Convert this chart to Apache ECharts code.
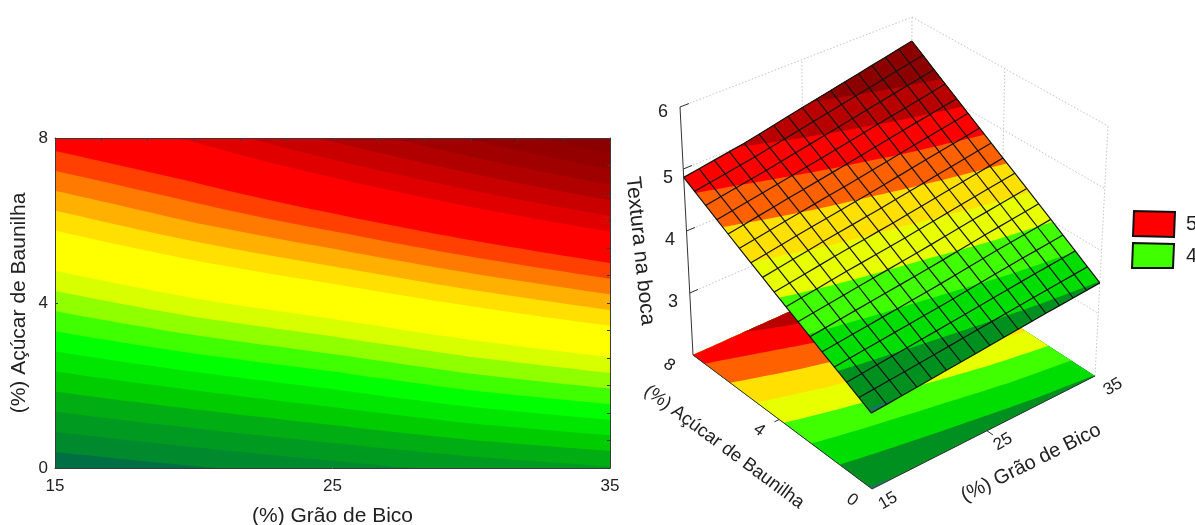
<!DOCTYPE html>
<html>
<head>
<meta charset="utf-8">
<style>html,body{margin:0;padding:0;background:#fff;overflow:hidden}#c{width:1195px;height:525px}</style>
<script src="https://cdn.jsdelivr.net/npm/echarts@6/dist/echarts.min.js"></script>
</head>
<body>
<div id="c"></div>
<script>
// ---- Values ----
const grainValues = [15, 20, 25, 30, 35];      // (%) Grão de Bico
const sugarValues = [0, 2, 4, 6, 8];           // (%) Açúcar de Baunilha
const textureAtGrain15 = [3.22, 3.63, 4.04, 4.45, 4.865];
const textureAtGrain20 = [3.29, 3.725, 4.175, 4.61, 5.02];
const textureAtGrain25 = [3.36, 3.82, 4.29, 4.76, 5.22];
const textureAtGrain30 = [3.43, 3.93, 4.42, 4.92, 5.41];
const textureAtGrain35 = [3.49, 4.02, 4.545, 5.07, 5.60];
const textureRows = [textureAtGrain15, textureAtGrain20, textureAtGrain25, textureAtGrain30, textureAtGrain35];

// contour levels and colours of the flat map (first colour lies below the first level)
const mapLevels = [3.3,3.4,3.5,3.6,3.7,3.8,3.9,4.0,4.1,4.2,4.4,4.5,4.6,4.7,4.8,5.0,5.1,5.2,5.3,5.4,5.5];
const mapColors = ['#006f44','#008a2e','#009a20','#00ae14','#00cc00','#00e600','#00ff00','#40ff00','#90ff00','#d8ff00','#ffff00','#ffe000','#ffb000','#ff7a00','#ff4000','#ff0000','#e00000','#c80000','#b00000','#a00000','#940000','#8b0000'];
// contour levels and colours of the 3D surface and its floor
const surfLevels = [3.25,3.5,3.75,4.0,4.25,4.5,4.75,5.0,5.25];
const surfColors = ['#17785a','#009020','#00dd00','#40ff00','#e8ff00','#ffe000','#ff6000','#ff0000','#b80000','#8c0000'];

const grainTicks = [15, 25, 35];
const sugarTicks = [0, 4, 8];
const textureTicks = [3, 4, 5, 6];
const legendLabels = ['5', '4'];
const legendColors = ['#ff0000', '#40ff00'];
const grainName = '(%) Grão de Bico';
const sugarName = '(%) Açúcar de Baunilha';
const textureName = 'Textura na boca';

// ---- Layout / camera (not data) ----
const MESH = 16, COLS = 48;
const FONT = '"Liberation Sans", Arial, sans-serif';
const floorQuad = [[872,489],[1095,376],[911,257],[693,355]];   // (15,0),(35,0),(35,8),(15,8) at z=2
const roofQuad  = [[870,240],[1108,126],[912,17],[680,107]];    // same at z=6
const zMin = 2, zMax = 6;

function homography(q){
  const [x0,y0]=q[0],[x1,y1]=q[1],[x2,y2]=q[2],[x3,y3]=q[3];
  const dx1=x1-x2,dx2=x3-x2,sx=x0-x1+x2-x3,dy1=y1-y2,dy2=y3-y2,sy=y0-y1+y2-y3;
  const den=dx1*dy2-dx2*dy1, g=(sx*dy2-dx2*sy)/den, h=(dx1*sy-sx*dy1)/den;
  const a=x1-x0+g*x1,b=x3-x0+h*x3,d=y1-y0+g*y1,e=y3-y0+h*y3;
  return (u,v)=>{const w=g*u+h*v+1;return [(a*u+b*v+x0)/w,(d*u+e*v+y0)/w];};
}
const floorH = homography(floorQuad), roofH = homography(roofQuad);
function project(x,y,z){
  const u=(x-15)/20,v=y/8,t=(z-zMin)/(zMax-zMin);
  const f=floorH(u,v),r=roofH(u,v);
  return [f[0]+(r[0]-f[0])*t,f[1]+(r[1]-f[1])*t];
}
function texture(x,y){
  const fx=Math.min((x-15)/5,3.9999),fy=Math.min(y/2,3.9999);
  const i=Math.floor(fx),j=Math.floor(fy),a=fx-i,b=fy-j;
  const R=textureRows;
  return (1-a)*(1-b)*R[i][j]+a*(1-b)*R[i+1][j]+(1-a)*b*R[i][j+1]+a*b*R[i+1][j+1];
}
// sugar value at which a grain column reaches a contour level (clamped to the plot)
function sugarAtLevel(x,level){
  const vals=sugarValues.map(y=>texture(x,y));
  if(level<=vals[0])return 0;
  for(let j=0;j<vals.length-1;j++){
    if(level<=vals[j+1])return sugarValues[j]+(sugarValues[j+1]-sugarValues[j])*(level-vals[j])/(vals[j+1]-vals[j]);
  }
  return 8;
}
// outline of the region at or above a level: the contour line, then back along the top edge
function regionAbove(level){
  const pts=[],top=[];
  for(let c=0;c<=COLS;c++){
    const x=15+20*c/COLS,y=sugarAtLevel(x,level);
    pts.push([x,y,texture(x,y)]);
    top.unshift([x,8,texture(x,8)]);
  }
  return pts.concat(top);
}
const bandItems=(levels,colors)=>colors.map((color,k)=>({color,region:regionAbove(k===0?-Infinity:levels[k-1])}));
const mapBands=bandItems(mapLevels,mapColors), surfBands=bandItems(surfLevels,surfColors);
const bandPolygon=(band,toPoint)=>({type:'polygon',silent:true,shape:{points:band.region.map(toPoint)},style:{fill:band.color}});

const gx=i=>15+20*i/MESH, gy=j=>8*j/MESH;
const node=(i,j)=>[gx(i),gy(j),texture(gx(i),gy(j))];

// ---- 3D furniture, described in model coordinates ----
const wallLines=[];
textureTicks.forEach(z=>{wallLines.push([15,8,z,35,8,z]);wallLines.push([35,8,z,35,0,z]);});
wallLines.push([25,8,zMin,25,8,zMax],[35,8,zMin,35,8,zMax],[35,4,zMin,35,4,zMax],[35,0,zMin,35,0,zMax]);
const frameLines=[[15,8,zMin,15,8,zMax],[15,8,zMin,15,0,zMin],[15,0,zMin,35,0,zMin]];
textureTicks.forEach(z=>frameLines.push([15,8,z,15.7,8,z]));
frameLines.push([15,4,zMin,14.6,4,zMin],[25,0,zMin,25,-0.25,zMin]);
const meshLines=[];
for(let i=0;i<=MESH;i++)meshLines.push({axis:'x',k:i});
for(let j=0;j<=MESH;j++)meshLines.push({axis:'y',k:j});

const texts3D=[];
[[663,112],[668,178],[670,240],[673,302]].reverse().forEach((p,k)=>texts3D.push({t:String(textureTicks[k]),x:p[0],y:p[1],r:0,s:18}));
[[852,500],[759,430],[669,365]].forEach((p,k)=>texts3D.push({t:String(sugarTicks[k]),x:p[0],y:p[1],r:-37,s:17}));
[[888,501],[1003,442],[1113,387]].forEach((p,k)=>texts3D.push({t:String(grainTicks[k]),x:p[0],y:p[1],r:30,s:17}));
texts3D.push({t:textureName,x:640,y:251,r:-84,s:21});
texts3D.push({t:sugarName,x:724,y:447,r:-36.6,s:18.5});
texts3D.push({t:grainName,x:1031,y:463,r:26.4,s:20});
legendLabels.forEach((t,k)=>texts3D.push({t,x:1186,y:224+32*k,r:0,s:20,align:'left'}));
const legendBoxes=[[[1134,211],[1175,212],[1174,237],[1133,236]],[[1133,243],[1174,244],[1173,268],[1132,268]]];

const lineItem=(api,seg,stroke,width,dash)=>{
  const a=api.coord(project(seg[0],seg[1],seg[2])),b=api.coord(project(seg[3],seg[4],seg[5]));
  return {type:'line',silent:true,shape:{x1:a[0],y1:a[1],x2:b[0],y2:b[1]},style:{stroke,lineWidth:width,lineDash:dash||null}};
};

const axisColor='#3a3a3a', textColor='#222';
const option={
  animation:false,
  backgroundColor:'#fff',
  grid:[
    {left:55,top:138,width:555,height:330,outerBoundsMode:'none'},
    {left:0,top:0,width:1195,height:525,show:false,outerBoundsMode:'none'}
  ],
  xAxis:[
    {gridIndex:0,type:'value',min:15,max:35,interval:5,position:'bottom',z:10,splitLine:{show:false},
     axisLine:{show:true,onZero:false,lineStyle:{color:axisColor,width:1}},
     axisTick:{show:false},
     axisLabel:{customValues:grainTicks,color:textColor,fontSize:17,fontFamily:FONT,margin:10,hideOverlap:false,showMinLabel:true,showMaxLabel:true},
     name:grainName,nameLocation:'middle',nameGap:38,nameTextStyle:{color:textColor,fontSize:21,fontFamily:FONT}},
    {gridIndex:0,type:'value',min:15,max:35,interval:5,position:'top',z:10,splitLine:{show:false},
     axisLine:{show:true,onZero:false,lineStyle:{color:axisColor,width:1}},
     axisTick:{show:true,inside:true,length:3,lineStyle:{color:axisColor}},
     minorTick:{show:true,splitNumber:3,length:3,lineStyle:{color:axisColor}},
     axisLabel:{show:false}},
    {gridIndex:1,type:'value',min:0,max:1195,show:false}
  ],
  yAxis:[
    {gridIndex:0,type:'value',min:0,max:8,interval:4,position:'left',z:10,splitLine:{show:false},
     axisLine:{show:true,onZero:false,lineStyle:{color:axisColor,width:1}},
     axisTick:{show:true,inside:true,length:3,lineStyle:{color:axisColor}},
     axisLabel:{color:textColor,fontSize:17,fontFamily:FONT,margin:7},
     name:sugarName,nameLocation:'middle',nameGap:25,nameTextStyle:{color:textColor,fontSize:21,fontFamily:FONT}},
    {gridIndex:0,type:'value',min:0,max:8,interval:2,position:'right',z:10,splitLine:{show:false},
     axisLine:{show:true,onZero:false,lineStyle:{color:axisColor,width:1}},
     axisTick:{show:true,inside:true,length:3,lineStyle:{color:axisColor}},
     minorTick:{show:true,splitNumber:3,length:3,lineStyle:{color:axisColor}},
     axisLabel:{show:false}},
    {gridIndex:1,type:'value',min:0,max:525,inverse:true,show:false}
  ],
  series:[
    {type:'custom',name:'map',xAxisIndex:0,yAxisIndex:0,clip:true,silent:true,z:2,data:mapColors,
     renderItem:(p,api)=>bandPolygon(mapBands[p.dataIndex],q=>api.coord([q[0],q[1]]))},
    {type:'custom',name:'walls',xAxisIndex:2,yAxisIndex:2,clip:false,silent:true,z:3,data:wallLines,
     renderItem:(p,api)=>lineItem(api,wallLines[p.dataIndex],'#c4c4c4',1,[1.5,2])},
    {type:'custom',name:'floor',xAxisIndex:2,yAxisIndex:2,clip:false,silent:true,z:4,data:surfColors,
     renderItem:(p,api)=>bandPolygon(surfBands[p.dataIndex],q=>api.coord(project(q[0],q[1],zMin)))},
    {type:'custom',name:'frame',xAxisIndex:2,yAxisIndex:2,clip:false,silent:true,z:5,data:frameLines,
     renderItem:(p,api)=>lineItem(api,frameLines[p.dataIndex],'#333',1)},
    {type:'custom',name:'surface',xAxisIndex:2,yAxisIndex:2,clip:false,silent:true,z:6,data:surfColors,
     renderItem:(p,api)=>bandPolygon(surfBands[p.dataIndex],q=>api.coord(project(q[0],q[1],q[2])))},
    {type:'custom',name:'mesh',xAxisIndex:2,yAxisIndex:2,clip:false,silent:true,z:7,data:meshLines,
     renderItem:(p,api)=>{
       const m=meshLines[p.dataIndex],pts=[];
       for(let n=0;n<=MESH;n++){
         const nd=m.axis==='x'?node(m.k,n):node(n,m.k);
         pts.push(api.coord(project(nd[0],nd[1],nd[2])));
       }
       return {type:'polyline',silent:true,shape:{points:pts},style:{stroke:'#141414',lineWidth:1.2,fill:null}};
     }},
    {type:'custom',name:'legend',xAxisIndex:2,yAxisIndex:2,clip:false,silent:true,z:8,data:legendColors,
     renderItem:(p,api)=>({type:'polygon',silent:true,shape:{points:legendBoxes[p.dataIndex].map(q=>api.coord(q))},style:{fill:legendColors[p.dataIndex],stroke:'#111',lineWidth:2}})},
    {type:'custom',name:'labels',xAxisIndex:2,yAxisIndex:2,clip:false,silent:true,z:9,data:texts3D.map(t=>t.t),
     renderItem:(p,api)=>{
       const t=texts3D[p.dataIndex],c=api.coord([t.x,t.y]);
       return {type:'text',silent:true,x:c[0],y:c[1],rotation:t.r*Math.PI/180,
         style:{text:t.t,fontSize:t.s,fontFamily:FONT,fill:textColor,align:t.align||'center',verticalAlign:'middle'}};
     }}
  ]
};
const chart=echarts.init(document.getElementById('c'),null,{renderer:'canvas'});
chart.setOption(option);
</script>
</body>
</html>
